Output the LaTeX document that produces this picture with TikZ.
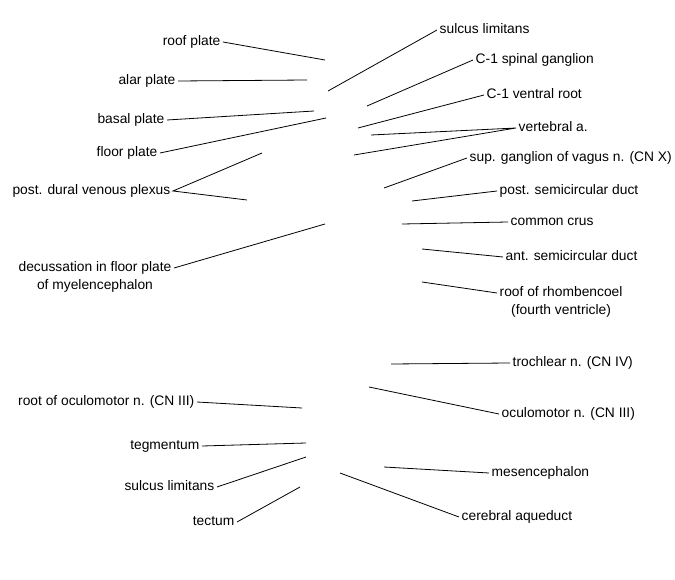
\documentclass[tikz,border=0pt]{standalone}
\usepackage{fontspec}
\setmainfont{Liberation Sans}
\usepackage{tikz}
\usetikzlibrary{positioning}

\begin{document}
\begin{tikzpicture}[x=1pt,y=-1pt]
\tikzstyle{lbl} =[font=\fontsize{13.8}{18}\selectfont, inner sep=2.5pt, text height=10pt, text depth=3pt]
\tikzstyle{lead} =[line width=0.8pt, black]
\useasboundingbox (0,0) rectangle (675,580);

% left labels
\node[lbl,anchor=east](l1) at (223,42){roof plate};
\node[lbl,anchor=east](l2) at (178,81){alar plate};
\node[lbl,anchor=east](l3) at (167,120){basal plate};
\node[lbl,anchor=east](l4) at (160,153){floor plate};
\node[lbl,anchor=east](l5) at (173,191){post. dural venous plexus};
\node[lbl,anchor=east](l6) at (174,268){decussation in floor plate};
\node[lbl,below=0pt of l6](l6b){of myelencephalon};
\node[lbl,anchor=east](l7) at (197,402){root of oculomotor n. (CN III)};
\node[lbl,anchor=east](l8) at (202,446){tegmentum};
\node[lbl,anchor=east](l9) at (217,487){sulcus limitans};
\node[lbl,anchor=east](l10) at (237,522){tectum};

% right labels
\node[lbl,anchor=west](r1) at (437,30){sulcus limitans};
\node[lbl,anchor=west](r2) at (473,60){C-1 spinal ganglion};
\node[lbl,anchor=west](r3) at (484,95){C-1 ventral root};
\node[lbl,anchor=west](r4) at (516,128){vertebral a.};
\node[lbl,anchor=west](r5) at (467,158){sup. ganglion of vagus n. (CN X)};
\node[lbl,anchor=west](r6) at (497,191){post. semicircular duct};
\node[lbl,anchor=west](r7) at (508,222){common crus};
\node[lbl,anchor=west](r8) at (503,257){ant. semicircular duct};
\node[lbl,anchor=west](r9) at (497,293){roof of rhombencoel};
\node[lbl,below=0pt of r9](r9b){(fourth ventricle)};
\node[lbl,anchor=west](r10) at (510,363){trochlear n. (CN IV)};
\node[lbl,anchor=west](r11) at (499,414){oculomotor n. (CN III)};
\node[lbl,anchor=west](r12) at (489,473){mesencephalon};
\node[lbl,anchor=west](r13) at (459,517){cerebral aqueduct};

% free ends of the leader lines
\coordinate (p1) at (325,60);
\coordinate (p2) at (307,80);
\coordinate (p3) at (314,111);
\coordinate (p4) at (326,118);
\coordinate (p5a) at (262,153);
\coordinate (p5b) at (247,200);
\coordinate (p6) at (325,224);
\coordinate (p7) at (302,408);
\coordinate (p8) at (306,443);
\coordinate (p9) at (306,457);
\coordinate (p10) at (300,487);
\coordinate (q1) at (328,91);
\coordinate (q2) at (367,106);
\coordinate (q3) at (358,128);
\coordinate (q4a) at (371,135);
\coordinate (q4b) at (354,155);
\coordinate (q5) at (384,188);
\coordinate (q6) at (412,201);
\coordinate (q7) at (402,224);
\coordinate (q8) at (422,249);
\coordinate (q9) at (422,282);
\coordinate (q10) at (391,364);
\coordinate (q11) at (369,387);
\coordinate (q12) at (384,467);
\coordinate (q13) at (340,473);

\draw[lead] (l1.east) -- (p1);
\draw[lead] (l2.east) -- (p2);
\draw[lead] (l3.east) -- (p3);
\draw[lead] (l4.east) -- (p4);
\draw[lead] (p5a) -- (l5.east) -- (p5b);
\draw[lead] (l6.east) -- (p6);
\draw[lead] (l7.east) -- (p7);
\draw[lead] (l8.east) -- (p8);
\draw[lead] (l9.east) -- (p9);
\draw[lead] (l10.east) -- (p10);
\draw[lead] (r1.west) -- (q1);
\draw[lead] (r2.west) -- (q2);
\draw[lead] (r3.west) -- (q3);
\draw[lead] (q4a) -- (r4.west) -- (q4b);
\draw[lead] (r5.west) -- (q5);
\draw[lead] (r6.west) -- (q6);
\draw[lead] (r7.west) -- (q7);
\draw[lead] (r8.west) -- (q8);
\draw[lead] (r9.west) -- (q9);
\draw[lead] (r10.west) -- (q10);
\draw[lead] (r11.west) -- (q11);
\draw[lead] (r12.west) -- (q12);
\draw[lead] (r13.west) -- (q13);
\end{tikzpicture}
\end{document}
